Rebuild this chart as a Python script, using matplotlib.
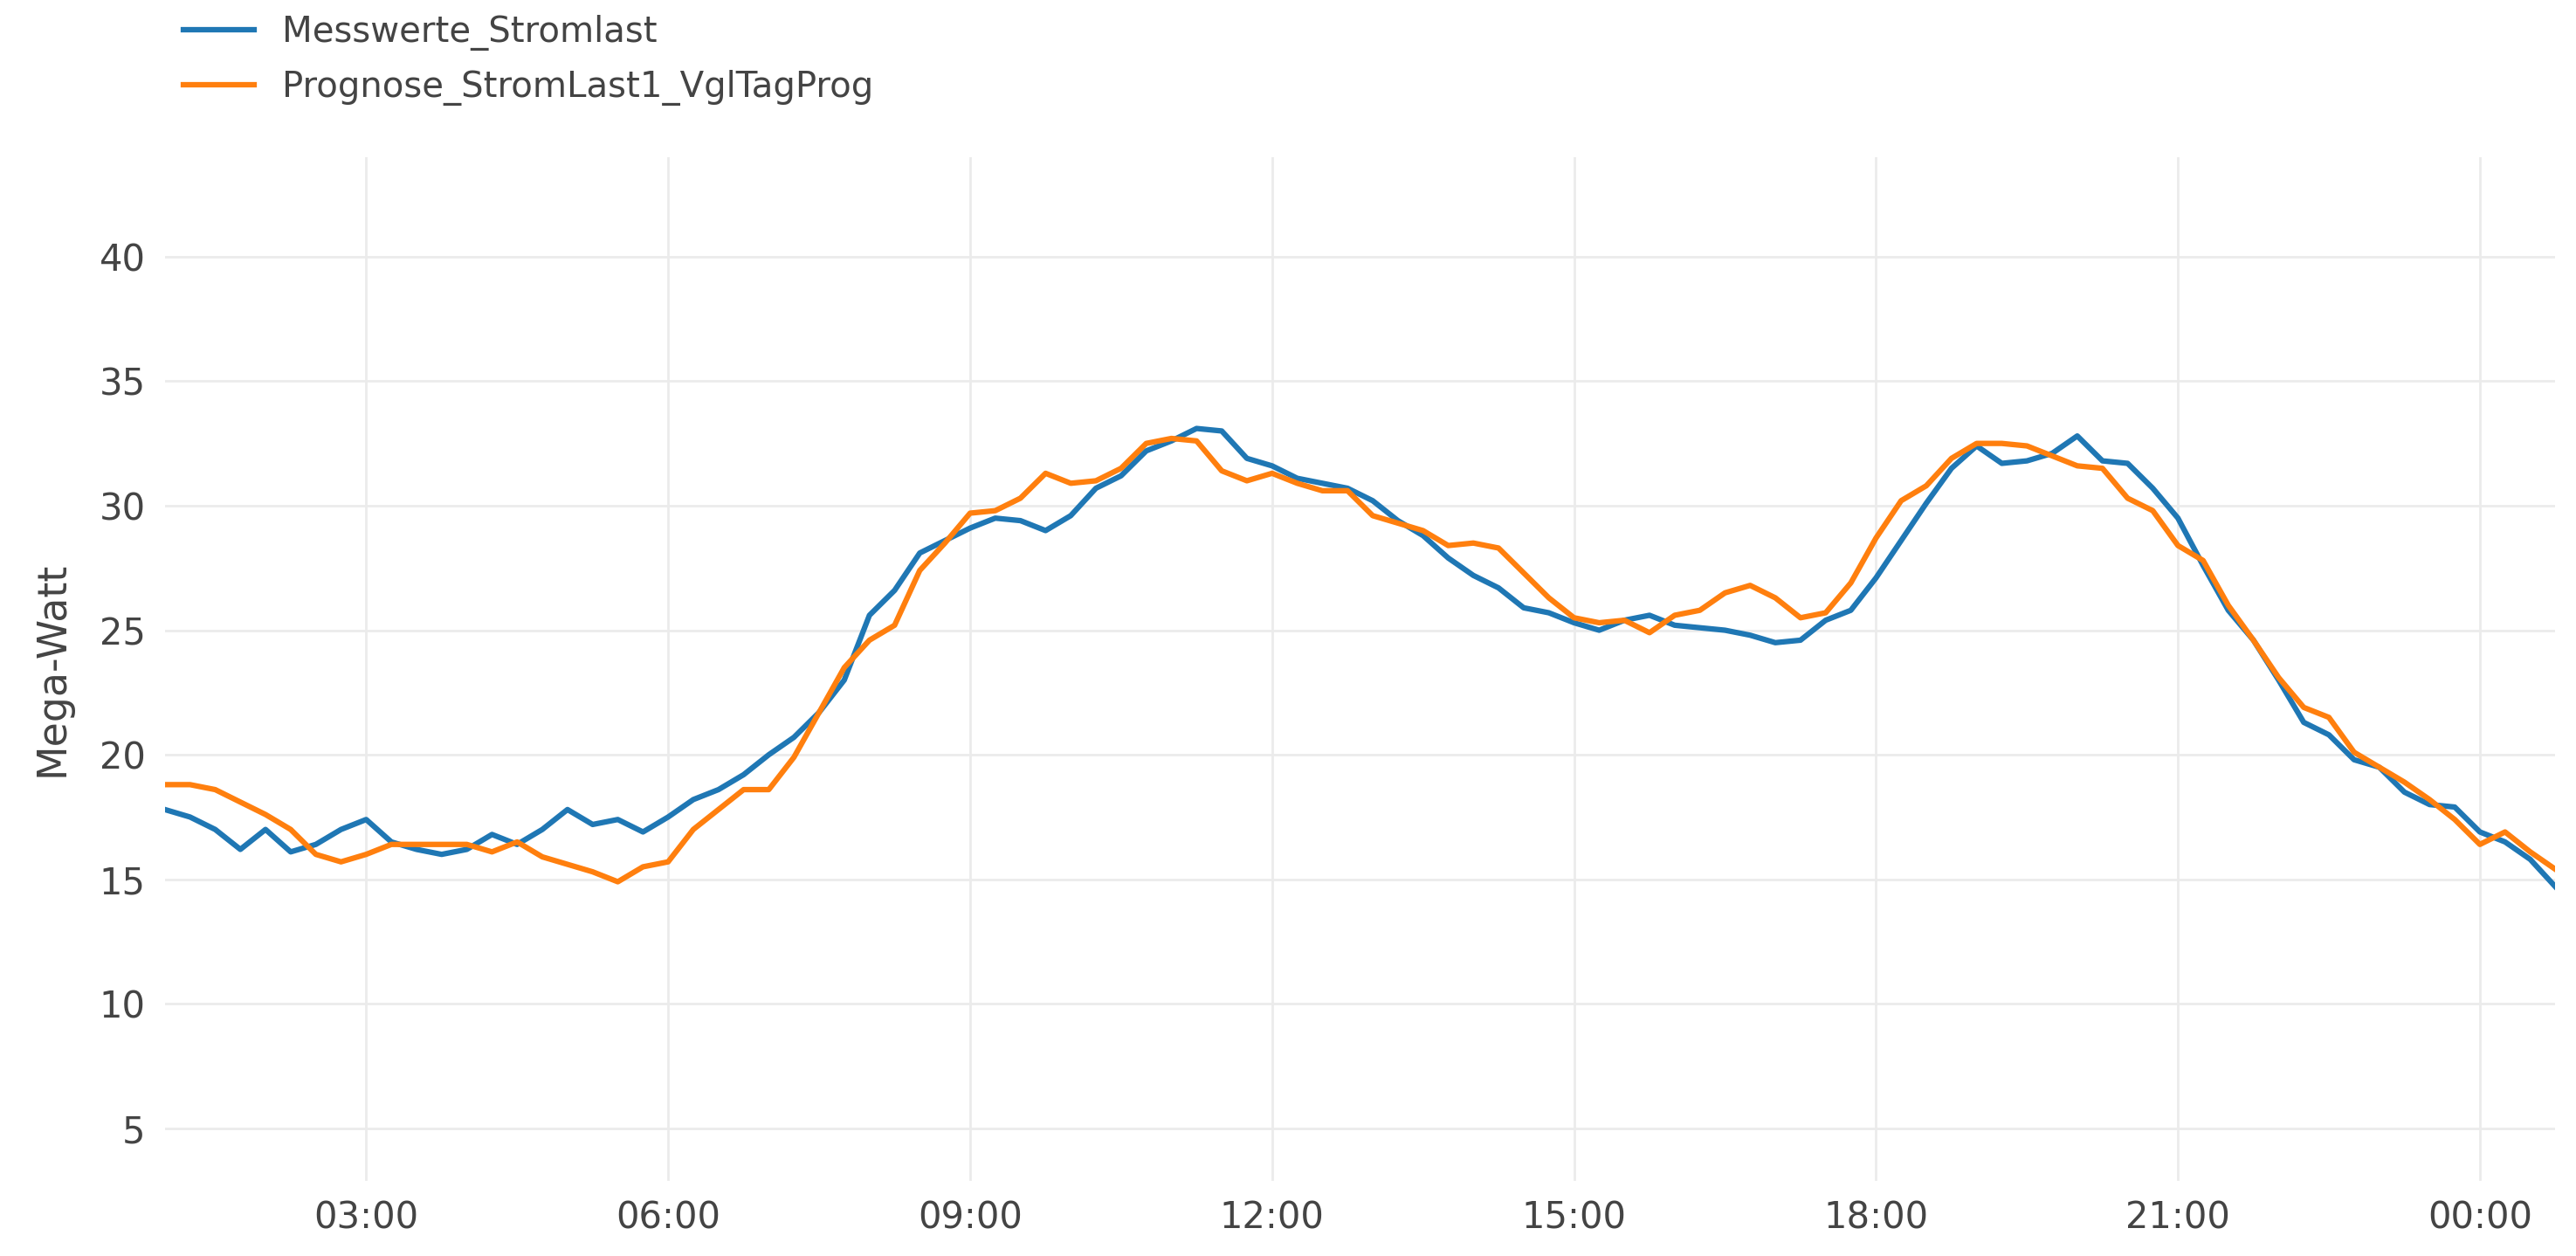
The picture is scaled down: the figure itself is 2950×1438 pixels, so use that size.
import matplotlib
matplotlib.use("Agg")
import matplotlib.pyplot as plt
import matplotlib.dates as mdates
import pandas as pd

times = pd.date_range("2024-01-01 01:00", periods=96, freq="15min")
messwerte = [17.8,17.5,17.0,16.2, 17.0,16.1,16.4,17.0, 17.4,16.5,16.2,16.0, 16.2,16.8,16.4,17.0,
             17.8,17.2,17.4,16.9, 17.5,18.2,18.6,19.2, 20.0,20.7,21.7,23.0, 25.6,26.6,28.1,28.6,
             29.1,29.5,29.4,29.0, 29.6,30.7,31.2,32.2, 32.6,33.1,33.0,31.9, 31.6,31.1,30.9,30.7,
             30.2,29.4,28.8,27.9, 27.2,26.7,25.9,25.7, 25.3,25.0,25.4,25.6, 25.2,25.1,25.0,24.8,
             24.5,24.6,25.4,25.8, 27.1,28.6,30.1,31.5, 32.4,31.7,31.8,32.1, 32.8,31.8,31.7,30.7,
             29.5,27.6,25.8,24.6, 23.0,21.3,20.8,19.8, 19.5,18.5,18.0,17.9, 16.9,16.5,15.8,14.7]
prognose = [18.8,18.8,18.6,18.1, 17.6,17.0,16.0,15.7, 16.0,16.4,16.4,16.4, 16.4,16.1,16.5,15.9,
            15.6,15.3,14.9,15.5, 15.7,17.0,17.8,18.6, 18.6,19.9,21.7,23.5, 24.6,25.2,27.4,28.5,
            29.7,29.8,30.3,31.3, 30.9,31.0,31.5,32.5, 32.7,32.6,31.4,31.0, 31.3,30.9,30.6,30.6,
            29.6,29.3,29.0,28.4, 28.5,28.3,27.3,26.3, 25.5,25.3,25.4,24.9, 25.6,25.8,26.5,26.8,
            26.3,25.5,25.7,26.9, 28.7,30.2,30.8,31.9, 32.5,32.5,32.4,32.0, 31.6,31.5,30.3,29.8,
            28.4,27.8,26.0,24.6, 23.1,21.9,21.5,20.1, 19.5,18.9,18.2,17.4, 16.4,16.9,16.1,15.4]

fig = plt.figure(figsize=(29.5, 14.38), dpi=100)
ax = fig.add_axes([0.064, 0.06, 0.928, 0.815])
ax.plot(times, messwerte, color="#1f77b4", lw=4.5, label="Messwerte_Stromlast")
ax.plot(times, prognose, color="#ff7f0e", lw=4.5, label="Prognose_StromLast1_VglTagProg")
ax.set_xlim(times[0], times[-1])
ax.set_ylim(2.9, 44)
ax.set_yticks([5, 10, 15, 20, 25, 30, 35, 40])
ax.xaxis.set_major_locator(mdates.HourLocator(byhour=range(0, 24, 3)))
ax.xaxis.set_major_formatter(mdates.DateFormatter("%H:%M"))
ax.grid(True, color="#ebebeb", lw=2)
ax.set_axisbelow(True)
for s in ax.spines.values():
    s.set_visible(False)
ax.tick_params(length=0, labelsize=30, colors="#444444", pad=16)
ax.set_ylabel("Mega-Watt", fontsize=33, color="#444444", labelpad=22)
fig.legend(loc="upper left", bbox_to_anchor=(0.063, 1.005), frameon=False, fontsize=29,
           handlelength=2.0, labelcolor="#444444", borderaxespad=0.2, labelspacing=0.55)
fig.savefig("out.png", dpi=100, facecolor="white")
